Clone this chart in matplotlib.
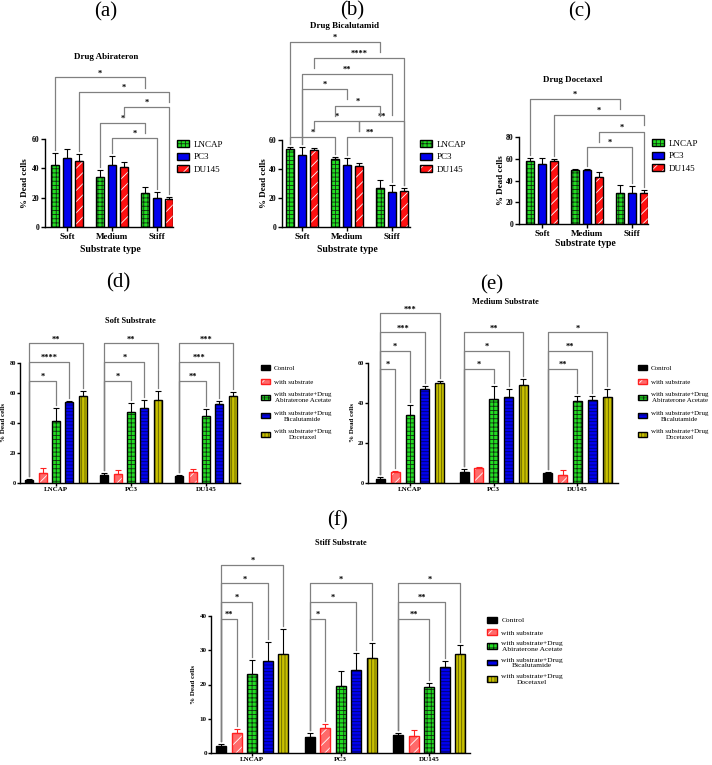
import numpy as np
import matplotlib
matplotlib.use("Agg")
import matplotlib.pyplot as plt
from matplotlib.patches import Patch

# Données
substrates = ["Soft", "Medium", "Stiff"]
cell_lines = ["LNCAP", "PC3", "DU145"]
treatments = [
	"Control",
	"with substrate",
	"with substrate+Drug\nAbiraterone Acetate",
	"with substrate+Drug\nBicalutamide",
	"with substrate+Drug\nDocetaxel",
]

# (a)-(c) : lignes = lignée cellulaire, colonnes = substrat
abi_mean = [[42, 34, 23], [47, 42, 19.5], [45, 41, 19]]
abi_err = [[8.5, 5, 4], [6, 6.5, 4.5], [4.5, 3, 1.5]]
bic_mean = [[54, 47, 27], [50, 43, 24], [53, 42, 25]]
bic_err = [[1, 1.5, 5.5], [5, 4.5, 5], [1.5, 2, 2]]
doc_mean = [[58, 50, 28.5], [55, 49.5, 28.5], [58, 43, 28.5]]
doc_err = [[3, 1, 7.5], [5.5, 1, 6], [2, 4.5, 2.5]]

# (d)-(f) : lignes = traitement, colonnes = lignée cellulaire
soft_mean = [[2, 5.5, 5], [7, 6.5, 7.5], [41.8, 47.3, 45.1], [54, 50, 52.9], [58.4, 55.3, 58]]
soft_err = [[0.8, 1.5, 0.7], [3, 2.5, 2], [8.6, 6.5, 4.7], [1.1, 5.3, 2], [3.1, 6, 2.7]]
medium_mean = [[2.2, 5.5, 5], [5.7, 7.5, 4.3], [34, 42, 41], [47, 43, 41.7], [50.3, 49, 43]]
medium_err = [[0.8, 1.7, 0.8], [0.7, 0.8, 2.2], [5, 6.5, 2.8], [1.5, 4, 2.2], [0.8, 3, 4.3]]
stiff_mean = [[2, 4.6, 5.3], [5.8, 7.4, 4.9], [23, 19.6, 19.2], [26.8, 24.1, 25], [28.8, 27.6, 28.8]]
stiff_err = [[0.8, 1.3, 0.7], [1.2, 1, 2], [4, 4.2, 1.1], [5.5, 5, 1.7], [7.3, 4.4, 2.6]]

# Comparaisons : (groupe1, série1, groupe2, série2, niveau, texte, jambe gauche, jambe droite)
# jambe = None -> descend jusqu'à la barre, sinon longueur en unités de données
abi_brackets = [
	(0, 0, 2, 0, 102, "*", None, 7),
	(0, 2, 2, 2, 92, "*", None, 7),
	(1, 2, 2, 2, 82, "*", 7, None),
	(1, 0, 2, 0, 71, "*", None, 7),
	(1, 1, 2, 1, 61, "*", None, None),
]
bic_brackets = [
	(0, 0, 2, 0, 127.6, "*", None, 7),
	(0, 2, 2, 2, 116.6, "****", 7, None),
	(0, 1, 2, 1, 105.5, "**", None, 28),
	(0, 1, 1, 1, 95.2, "*", None, 7),
	(1, 0, 2, 0, 83.4, "*", 7, 7),
	(0, 2, 1, 2, 73.1, "*", 7, 7),
	(1, 2, 2, 2, 73.1, "**", 7, None),
	(0, 0, 1, 0, 62.1, "*", None, None),
	(1, 1, 2, 1, 62.1, "**", None, None),
]
doc_brackets = [
	(0, 0, 2, 0, 115, "*", None, 9),
	(0, 2, 2, 2, 100, "*", None, 9),
	(1, 2, 2, 2, 84.6, "*", 9, None),
	(1, 1, 2, 1, 70.8, "*", None, None),
]
# (groupe, traitement comparé au contrôle, niveau, texte)
soft_brackets = [
	(0, 4, 93.3, "**"), (0, 3, 80.7, "****"), (0, 2, 68.4, "*"),
	(1, 4, 93.3, "**"), (1, 3, 80.7, "*"), (1, 2, 68.4, "*"),
	(2, 4, 93.3, "***"), (2, 3, 80.7, "***"), (2, 2, 68.4, "**"),
]
medium_brackets = [
	(0, 4, 85, "***"), (0, 3, 75.5, "***"), (0, 2, 66.2, "*"), (0, 1, 57.2, "*"),
	(1, 4, 75.5, "**"), (1, 3, 66.2, "*"), (1, 2, 57.2, "*"),
	(2, 4, 75.5, "*"), (2, 3, 66.2, "**"), (2, 2, 57.2, "**"),
]
stiff_brackets = [
	(0, 4, 54.8, "*"), (0, 3, 49.4, "*"), (0, 2, 44.1, "*"), (0, 1, 39.0, "**"),
	(1, 4, 49.4, "*"), (1, 3, 44.1, "*"), (1, 1, 39.0, "*"),
	(2, 4, 49.4, "*"), (2, 3, 44.1, "**"), (2, 2, 39.0, "**"),
]

# Styles des barres
GREEN = dict(face="#22dd22", hc="#103010", hatch="++++", edge="black")
BLUE = dict(face="#0000ee", hc="#0000ee", hatch=None, edge="black")
RED = dict(face="#ff1010", hc="white", hatch="///", edge="black")
BLACK = dict(face="black", hc="black", hatch=None, edge="black")
PINK = dict(face="#ff6a6a", hc="white", hatch="///", edge="#ff2020")
BLUE_H = dict(face="#0000ee", hc="#000070", hatch="-----", edge="black")
OLIVE = dict(face="#c8c000", hc="#606000", hatch="|||||", edge="black")
cell_styles = [GREEN, BLUE, RED]
treat_styles = [BLACK, PINK, GREEN, BLUE_H, OLIVE]

W, H = 712, 765
plt.rcParams["font.family"] = "serif"
plt.rcParams["font.serif"] = ["Liberation Serif", "DejaVu Serif"]
plt.rcParams["hatch.linewidth"] = 0.6
plt.rcParams["axes.linewidth"] = 1.0

fig = plt.figure(figsize=(W / 100, H / 100), dpi=100)


def ftext(x, y, s, **kw):
	kw.setdefault("ha", "center")
	kw.setdefault("va", "center")
	fig.text(x / W, 1 - y / H, s, **kw)


def make_axes(left, right, top, bottom):
	return fig.add_axes([left / W, 1 - bottom / H, (right - left) / W, (bottom - top) / H])


def bar_x(g, s, n, off):
	return g + (s - (n - 1) / 2) * off


def draw_bars(ax, means, errs, styles, off, width):
	n = len(means)
	groups = np.arange(len(means[0]))
	for s in range(n):
		st = styles[s]
		x = groups + (s - (n - 1) / 2) * off
		m = np.array(means[s], dtype=float)
		e = np.array(errs[s], dtype=float)
		ax.errorbar(x, m, yerr=[np.zeros_like(e), e], fmt="none", ecolor=st["edge"],
					elinewidth=0.8, capsize=2, capthick=0.8, zorder=1)
		ax.bar(x, m, width, color=st["face"], edgecolor=st["hc"], hatch=st["hatch"],
			   linewidth=0, zorder=2)
		ax.bar(x, m, width, fill=False, edgecolor=st["edge"], linewidth=1, zorder=3)


def draw_brackets(ax, brackets, means, errs, off, gap, fs):
	n = len(means)
	for g1, s1, g2, s2, level, text, leg1, leg2 in brackets:
		x1 = bar_x(g1, s1, n, off)
		x2 = bar_x(g2, s2, n, off)
		y1 = means[s1][g1] + errs[s1][g1] + gap if leg1 is None else level - leg1
		y2 = means[s2][g2] + errs[s2][g2] + gap if leg2 is None else level - leg2
		ax.plot([x1, x1, x2, x2], [y1, level, level, y2], color="#808080", lw=0.9,
				clip_on=False, zorder=5)
		ax.text((x1 + x2) / 2, level, text, ha="center", va="bottom", fontsize=fs,
				fontweight="bold", clip_on=False)


def style_axes(ax, xlim, ymax, ystep, xlabels, tick_fs, xlab_fs, tick_len=3):
	ax.set_xlim(*xlim)
	ax.set_ylim(0, ymax)
	ax.spines[["top", "right"]].set_visible(False)
	ax.spines["left"].set_bounds(0, ymax)
	yt = np.arange(0, ymax + 1, ystep)
	ax.set_yticks(yt, labels=[f"{t:g}" for t in yt], fontsize=tick_fs, fontweight="bold")
	ax.set_xticks(np.arange(len(xlabels)), labels=xlabels, fontsize=xlab_fs, fontweight="bold")
	ax.tick_params(direction="out", length=tick_len, width=1, pad=1)
	ax.patch.set_visible(False)


def add_legend(ax, styles, labels, x, y, fs, spacing):
	handles = [
		(Patch(facecolor=st["face"], edgecolor=st["hc"], hatch=st["hatch"], linewidth=0),
		 Patch(fill=False, edgecolor=st["edge"], linewidth=1))
		for st in styles
	]
	leg = ax.legend(handles, labels, loc="upper left", bbox_to_anchor=(x / W, 1 - y / H),
					bbox_transform=fig.transFigure, frameon=False, fontsize=fs,
					handlelength=1.3, handleheight=0.8, handletextpad=0.6,
					labelspacing=spacing, borderpad=0, borderaxespad=0)
	for t in leg.get_texts():
		t.set_multialignment("center")
	return leg


# ---------- (a), (b), (c) ----------
drug_panels = [
	("(a)", "Drug Abirateron", abi_mean, abi_err, abi_brackets, (45, 173, 139, 227), 67, 60, 20,
	 (106, 12), (106, 57), (25, 183), (110, 249), (177, 140)),
	("(b)", "Drug Bicalutamid", bic_mean, bic_err, bic_brackets, (282, 410, 140, 227), 302, 60, 20,
	 (352, 11), (345, 26), (264, 183), (347, 249), (420, 140)),
	("(c)", "Drug Docetaxel", doc_mean, doc_err, doc_brackets, (519, 648, 137, 224), 542, 80, 20,
	 (580, 12), (573, 80), (501, 180), (585, 244), (652, 139)),
]
for (letter, title, means, errs, brackets, box, g0, ymax, ystep,
	 letter_pos, title_pos, ylab_pos, xlab_pos, leg_pos) in drug_panels:
	left, right, top, bottom = box
	ax = make_axes(left, right, top, bottom)
	xlim = ((left - g0) / 45, (right - g0) / 45)
	draw_bars(ax, means, errs, cell_styles, 0.267, 0.17)
	style_axes(ax, xlim, ymax, ystep, substrates, 5.5, 6.5)
	gap = 3 * ymax / (bottom - top)
	draw_brackets(ax, brackets, means, errs, 0.267, gap, 6)
	add_legend(ax, cell_styles, cell_lines, leg_pos[0], leg_pos[1], 6.5, 0.45)
	ftext(*letter_pos, letter, fontsize=15)
	ftext(*title_pos, title, fontsize=6.5, fontweight="bold")
	ftext(*ylab_pos, "% Dead cells", fontsize=6.5, fontweight="bold", rotation=90)
	ftext(*xlab_pos, "Substrate type", fontsize=7, fontweight="bold")

# ---------- (d), (e), (f) ----------
substrate_panels = [
	("(d)", "Soft Substrate", soft_mean, soft_err, soft_brackets, (20, 240, 363.3, 483.3), 56, 75,
	 0.179, 0.107, 80, 20, (118, 283), (130, 321), (4, 423), (261, 365), 4.5, 5, 5, 1.1),
	("(e)", "Medium Substrate", medium_mean, medium_err, medium_brackets, (368, 618, 363.3, 483.3),
	 410, 83.7, 0.177, 0.107, 60, 20, (492, 285), (505, 302), (353, 423), (638, 365), 4.5, 5, 5, 1.1),
	("(f)", "Stiff Substrate", stiff_mean, stiff_err, stiff_brackets, (211, 470, 615.7, 753.3),
	 252.3, 88.5, 0.176, 0.113, 40, 10, (337, 521), (341, 543), (193, 684), (487, 617), 5, 5, 5.4, 0.75),
]
for (letter, title, means, errs, brackets, box, g0, gsp, off, width, ymax, ystep,
	 letter_pos, title_pos, ylab_pos, leg_pos, tick_fs, cat_fs, leg_fs, spacing) in substrate_panels:
	left, right, top, bottom = box
	ax = make_axes(left, right, top, bottom)
	xlim = ((left - g0) / gsp, (right - g0) / gsp)
	draw_bars(ax, means, errs, treat_styles, off, width)
	style_axes(ax, xlim, ymax, ystep, cell_lines, tick_fs, cat_fs, tick_len=2)
	gap = 3 * ymax / (bottom - top)
	full = [(g, 0, g, s, lvl, txt, None, None) for g, s, lvl, txt in brackets]
	draw_brackets(ax, full, means, errs, off, gap, 6)
	add_legend(ax, treat_styles, treatments, leg_pos[0], leg_pos[1], leg_fs, spacing)
	ftext(*letter_pos, letter, fontsize=15)
	ftext(*title_pos, title, fontsize=6, fontweight="bold")
	ftext(*ylab_pos, "% Dead cells", fontsize=cat_fs, fontweight="bold", rotation=90)

fig.savefig("out.png", dpi=100)
